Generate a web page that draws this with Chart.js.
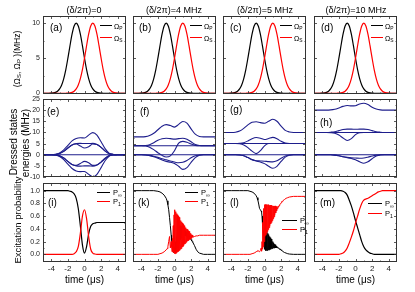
<!DOCTYPE html>
<html><head><meta charset="utf-8">
<script src="https://cdn.jsdelivr.net/npm/chart.js@4.4.1/dist/chart.umd.min.js"></script>
<style>
body{margin:0;background:#fff;}
#wrap{position:relative;width:415px;height:292px;overflow:hidden;font-family:"Liberation Sans",Arial,sans-serif;color:#000;background:#fff;}
canvas{position:absolute;left:0;top:0;}
.t{position:absolute;white-space:nowrap;line-height:1;}
.t sub{font-size:70%;vertical-align:-0.25em;line-height:0;}
.ll{position:absolute;height:0;}
</style></head><body><div id="wrap"></div>
<script>
// ---------------- DATA ----------------
const tFine = [-5,-4.75,-4.5,-4.25,-4,-3.75,-3.5,-3.25,-3,-2.75,-2.5,-2.25,-2,-1.75,-1.5,-1.25,-1,-0.75,-0.5,-0.25,0,0.25,0.5,0.75,1,1.25,1.5,1.75,2,2.25,2.5,2.75,3,3.25,3.5,3.75,4,4.25,4.5,4.75,5];
const tCoarse = [-5,-4.5,-4,-3.5,-3,-2.5,-2,-1.5,-1,-0.5,0,0.5,1,1.5,2,2.5,3,3.5,4,4.5,5];
const tNoisy = [-5,-4,-3,-2.5,-2,-1.75,-1.5,-1.25,-1,-0.9,-0.8,-0.7,-0.6,-0.5,-0.4,
 -0.35,-0.3,-0.25,-0.2,-0.15,-0.1,-0.05,0,0.05,0.1,0.15,0.2,0.25,0.3,0.35,0.4,0.45,0.5,0.55,0.6,0.65,0.7,0.75,0.8,0.85,0.9,0.95,1,1.05,1.1,1.15,1.2,1.25,1.3,1.35,1.4,1.45,1.5,1.55,1.6,1.65,1.7,1.75,1.8,1.85,1.9,1.95,2,2.05,2.1,2.15,2.2,
 2.4,2.6,2.8,3,3.5,4,4.5,5];

const detuningTitles = ['(δ/2π)=0','(δ/2π)=4 MHz','(δ/2π)=5 MHz','(δ/2π)=10 MHz'];
const panelLetters = [['(a)','(b)','(c)','(d)'],['(e)','(f)','(g)','(h)'],['(i)','(k)','(l)','(m)']];

// Row 1: Rabi frequencies (MHz)
const omegaP = [0,0,0,0.01,0.02,0.05,0.13,0.30,0.62,1.19,2.10,3.38,5.00,6.77,8.41,9.58,10,9.58,8.41,6.77,5.00,3.38,2.10,1.19,0.62,0.30,0.13,0.05,0.02,0.01,0,0,0,0,0,0,0,0,0,0,0];
const omegaS = [0,0,0,0,0,0,0,0,0,0,0,0.01,0.02,0.05,0.13,0.30,0.62,1.19,2.10,3.38,5.00,6.77,8.41,9.58,10,9.58,8.41,6.77,5.00,3.38,2.10,1.19,0.62,0.30,0.13,0.05,0.02,0.01,0,0,0];

// Row 2: dressed state energies (MHz)
const eA  = [0,0,0,0.2,0.8,2.2,4.2,6.2,7.3,7.6,7.5,8.8,9.9,8.8,5.8,2.6,0.6,0.1,0,0,0];
const eB  = [0,0,0,0.1,0.5,1.5,3.0,4.4,5.0,5.1,5.0,5.0,5.1,4.6,3.3,1.6,0.4,0.1,0,0,0];
const eC  = [0,0,0,0.1,0.5,1.5,3.0,4.4,4.8,3.9,3.0,3.6,4.8,4.6,3.3,1.6,0.4,0.1,0,0,0];
const eD  = [0,0,0,0,0,0,0,0,0,0,0,0,0,0,0,0,0,0,0,0,0];
const eCn = [0,0,0,-0.1,-0.5,-1.5,-3.0,-4.4,-4.8,-3.9,-3.0,-3.6,-4.8,-4.6,-3.3,-1.6,-0.4,-0.1,0,0,0];
const eBn = [0,0,0,-0.1,-0.5,-1.5,-3.0,-4.4,-5.0,-5.1,-5.0,-5.0,-5.1,-4.6,-3.3,-1.6,-0.4,-0.1,0,0,0];
const eAn = [0,0,0,-0.2,-0.8,-2.2,-4.2,-6.2,-7.3,-7.6,-7.5,-8.8,-9.9,-8.8,-5.8,-2.6,-0.6,-0.1,0,0,0];

const fA = [8,8,8,8.1,8.6,9.6,11.2,12.8,13.5,13.1,12.4,13.6,14.9,14.2,11.6,9.2,8.2,8,8,8,8];
const fB = [4,4,4,4.1,4.5,5.4,6.5,7.2,7.4,7.2,7.0,7.2,7.4,6.9,5.8,4.6,4.1,4,4,4,4];
const fC = [4,4,4,3.9,3.4,2.3,0.9,-0.3,-1.0,-0.5,1.8,5.2,6.0,5.6,4.8,4.2,4,4,4,4,4];
const fD = [4,4,4,4,4,4,4,4,4,4,4,4,4,4,4,4,4,4,4,4,4];
const fE = [0,0,0,0,0,0,0,0,0,0,0,0,0,0,0,0,0,0,0,0,0];
const fF = [0,0,0,-0.1,-0.3,-0.7,-1.2,-1.8,-2.3,-2.8,-3.3,-3.6,-3.4,-2.6,-1.4,-0.5,-0.1,0,0,0,0];
const fG = [0,0,0,-0.1,-0.4,-0.9,-1.6,-2.4,-3.0,-3.4,-3.9,-5.2,-6.6,-5.8,-3.4,-1.3,-0.2,0,0,0,0];

const gA = [10,10,10,10.1,10.6,11.8,13.4,14.6,14.8,14.4,14.1,15.0,15.9,15.0,12.8,10.9,10.2,10,10,10,10];
const gB = [5,5,5,5,5.1,5.4,6.2,7.2,7.7,7.4,6.8,7.3,7.8,7.2,6.0,5.2,5,5,5,5,5];
const gC = [5,5,5,5,4.9,4.4,3.2,1.6,0.5,1.8,4.0,5.0,5,5,5,5,5,5,5,5,5];
const gD = [5,5,5,5,5,5,5,5,5,5,5,5,5,5,5,5,5,5,5,5,5];
const gE = [0,0,0,0,0,0,0,0,0,0,0,0,0,0,0,0,0,0,0,0,0];
const gF = [0,0,0,0,-0.1,-0.5,-1.3,-2.2,-2.7,-2.8,-2.9,-3.1,-3.2,-2.7,-1.6,-0.6,-0.1,0,0,0,0];
const gG = [0,0,0,0,-0.1,-0.5,-1.3,-2.2,-2.8,-3.3,-4.0,-5.2,-6.1,-5.2,-3.0,-1.1,-0.2,0,0,0,0];

const hA = [20,20,20,20,20.1,20.4,21.0,21.7,22.1,21.9,22.0,22.8,23.1,22.5,21.3,20.5,20.1,20,20,20,20];
const hB = [10,10,10,10,10.1,10.3,10.8,11.3,11.5,11.5,11.4,11.5,11.5,11.3,10.8,10.3,10.1,10,10,10,10];
const hC = [10,10,10,10,9.9,9.6,8.8,7.5,6.4,7.2,9.0,9.9,10,10,10,10,10,10,10,10,10];
const hD = [10,10,10,10,10,10,10,10,10,10,10,10,10,10,10,10,10,10,10,10,10];
const hE = [0,0,0,0,0,0,0,0,0,0,0,0,0,0,0,0,0,0,0,0,0];
const hF = [0,0,0,0,-0.05,-0.2,-0.5,-0.9,-1.2,-1.4,-1.5,-1.6,-1.5,-1.1,-0.6,-0.2,-0.05,0,0,0,0];
const hG = [0,0,0,0,-0.05,-0.2,-0.5,-0.9,-1.3,-1.7,-2.3,-3.2,-3.8,-3.2,-1.8,-0.6,-0.1,0,0,0,0];

// Row 3: excitation probabilities
const pInfI = [1,1,1,1,1,1,1,1,1,1,1,1,1,0.99,0.98,0.95,0.88,0.72,0.45,0.15,0.02,0.12,0.32,0.44,0.48,0.49,0.5,0.5,0.5,0.5,0.5,0.5,0.5,0.5,0.5,0.5,0.5,0.5,0.5,0.5,0.5];
const p1I   = [0,0,0,0,0,0,0,0,0,0,0,0,0,0,0,0.01,0.04,0.12,0.33,0.6,0.7,0.56,0.28,0.08,0.02,0.005,0,0,0,0,0,0,0,0,0,0,0,0,0,0,0];
const pInfK = [1,1,1,1,0.99,0.98,0.96,0.93,0.88,0.84,0.78,0.7,0.58,0.45,0.3,
 0.22,0.15,0.1,0.06,0.04,0.03,0.04,0.06,0.12,0.03,0.2,0.05,0.28,0.08,0.34,0.12,0.4,0.16,0.44,0.2,0.45,0.23,0.45,0.25,0.44,0.27,0.43,0.28,0.42,0.29,0.41,0.29,0.39,0.29,0.37,0.29,0.35,0.28,0.33,0.27,0.31,0.26,0.29,0.25,0.27,0.24,0.25,0.23,0.23,0.21,0.2,0.19,
 0.14,0.08,0.04,0.02,0,0,0,0];
const p1K = [0,0,0,0,0,0.01,0.02,0.04,0.07,0.09,0.12,0.2,0.28,0.1,0.2,
 0.12,0.04,0.25,0.05,0.45,0.03,0.62,0.01,0.70,0.01,0.67,0.02,0.64,0.03,0.62,0.04,0.60,0.05,0.58,0.06,0.55,0.08,0.53,0.09,0.51,0.11,0.49,0.12,0.47,0.14,0.45,0.16,0.43,0.17,0.42,0.19,0.40,0.20,0.39,0.21,0.37,0.22,0.36,0.23,0.34,0.24,0.33,0.25,0.31,0.26,0.30,0.27,
 0.28,0.29,0.29,0.3,0.3,0.3,0.3,0.3];
const pInfL = [1,1,1,1,1,0.99,0.98,0.96,0.92,0.89,0.85,0.79,0.72,0.7,0.68,
 0.66,0.6,0.52,0.44,0.36,0.28,0.12,0.42,0.08,0.4,0.06,0.38,0.06,0.36,0.06,0.33,0.07,0.31,0.07,0.28,0.08,0.26,0.08,0.24,0.09,0.22,0.09,0.2,0.1,0.18,0.1,0.16,0.1,0.15,0.1,0.13,0.1,0.12,0.1,0.11,0.1,0.1,0.09,0.09,0.08,0.08,0.07,0.07,0.06,0.06,0.05,0.05,
 0.03,0.02,0.01,0.005,0,0,0,0];
const p1L = [0,0,0,0,0,0,0.01,0.02,0.04,0.05,0.06,0.05,0.04,0.06,0.1,
 0.05,0.2,0.08,0.5,0.12,0.72,0.2,0.78,0.28,0.78,0.3,0.78,0.33,0.78,0.36,0.78,0.39,0.78,0.42,0.77,0.45,0.77,0.48,0.77,0.5,0.77,0.53,0.76,0.56,0.76,0.59,0.76,0.62,0.76,0.65,0.75,0.68,0.75,0.71,0.75,0.74,0.76,0.76,0.77,0.78,0.79,0.8,0.81,0.82,0.83,0.83,0.84,
 0.86,0.88,0.89,0.9,0.91,0.91,0.91,0.91];
const pInfM = [1,1,1,1,1,1,1,1,1,1,1,1,1,1,0.99,0.97,0.93,0.85,0.76,0.65,0.53,0.42,0.31,0.2,0.12,0.07,0.04,0.02,0.01,0,0,0,0,0,0,0,0,0,0,0,0];
const p1M   = [0,0,0,0,0,0,0,0,0,0,0,0,0,0.01,0.02,0.05,0.1,0.18,0.27,0.37,0.49,0.6,0.71,0.8,0.85,0.87,0.88,0.9,0.92,0.94,0.96,0.98,0.99,1,1,1,1,1,1,1,1];

// tick values
const xMajor = [-4,-2,0,2,4];
const xMinor = [-3,-1,1,3];
const y1Major = [0,5,10], y1Minor = [2.5,7.5];
const y2Major = [-10,-5,0,5,10,15,20,25], y2Minor = [-7.5,-2.5,2.5,7.5,12.5,17.5,22.5];
const y3Major = [0,0.2,0.4,0.6,0.8,1.0], y3Minor = [0.1,0.3,0.5,0.7,0.9];

// ---------------- LAYOUT ----------------
const W = 415, H = 292;
const colL = [43,133,223,314], colR = [126,216,306,397];
const rowT = [16,99,183], rowB = [94,177,262];
const YW = 30, XH = 16;
const FONT = '"Liberation Sans", Arial, sans-serif';
const BLUE = '#1e1e8c', RED = '#ff0000', BLACK = '#000000';
const wrap = document.getElementById('wrap');

const frameTicks = {
  id: 'frameTicks',
  afterDatasetsDraw(chart, args, o) {
    const {ctx, chartArea: a, scales: {x, y}} = chart;
    ctx.save();
    ctx.strokeStyle = '#333'; ctx.lineWidth = 1;
    ctx.strokeRect(a.left + 0.5, a.top + 0.5, a.right - a.left - 1, a.bottom - a.top - 1);
    ctx.lineWidth = 0.8;
    ctx.beginPath();
    const tk = (vals, len, isX) => vals.forEach(v => {
      if (isX) {
        const px = Math.round(x.getPixelForValue(v)) + 0.5;
        ctx.moveTo(px, a.bottom); ctx.lineTo(px, a.bottom - len);
        ctx.moveTo(px, a.top); ctx.lineTo(px, a.top + len);
      } else {
        const py = Math.round(y.getPixelForValue(v)) + 0.5;
        ctx.moveTo(a.left, py); ctx.lineTo(a.left + len, py);
        ctx.moveTo(a.right, py); ctx.lineTo(a.right - len, py);
      }
    });
    tk(o.xMajor, 3, true); tk(o.xMinor, 1.5, true);
    tk(o.yMajor, 3, false); tk(o.yMinor, 1.5, false);
    ctx.stroke();
    ctx.restore();
  }
};

function ser(xs, ys, color, order, smooth, bw) {
  return {
    data: xs.map((x, i) => ({x, y: ys[i]})),
    borderColor: color, borderWidth: bw || 1.2, pointRadius: 0, fill: false, order,
    tension: smooth ? 0.4 : 0, cubicInterpolationMode: smooth ? 'monotone' : 'default'
  };
}

function panel(row, col, datasets, yMin, yMax, yMajor, yMinor, fmt) {
  const c = document.createElement('canvas');
  c.width = W; c.height = H;
  c.style.width = W + 'px'; c.style.height = H + 'px';
  wrap.appendChild(c);
  const xShow = row === 2, yShow = col === 0;
  new Chart(c, {
    type: 'line',
    data: {datasets},
    options: {
      responsive: false, animation: false, devicePixelRatio: 1,
      layout: {padding: {left: colL[col] - (yShow ? YW : 0), right: W - colR[col], top: rowT[row], bottom: H - rowB[row] - (xShow ? XH : 0)}},
      plugins: {legend: {display: false}, tooltip: {enabled: false},
        frameTicks: {xMajor, xMinor, yMajor, yMinor}},
      scales: {
        x: {type: 'linear', min: -5, max: 5, display: xShow,
          afterBuildTicks: s => { s.ticks = xMajor.map(v => ({value: v})); },
          afterFit: s => { s.height = xShow ? XH : 0; },
          grid: {display: false, drawTicks: false}, border: {display: false},
          ticks: {font: {size: 8, family: FONT}, color: '#222', padding: 2, autoSkip: false, maxRotation: 0, callback: v => String(v)}},
        y: {type: 'linear', min: yMin, max: yMax, display: yShow,
          afterBuildTicks: s => { s.ticks = yMajor.map(v => ({value: v})); },
          afterFit: s => { s.width = yShow ? YW : 0; },
          grid: {display: false, drawTicks: false}, border: {display: false},
          ticks: {font: {size: 7, family: FONT}, color: '#222', padding: 3, autoSkip: false, callback: fmt}}
      }
    },
    plugins: [frameTicks]
  });
}

const fmtInt = v => String(v);
const fmt1 = v => Number(v).toFixed(1);

// Row 1
for (let c = 0; c < 4; c++) {
  panel(0, c, [ser(tFine, omegaP, BLACK, 1, true), ser(tFine, omegaS, RED, 0, true)], -0.1, 11, y1Major, y1Minor, fmtInt);
}
// Row 2
const energySets = [
  [eA, eB, eC, eD, eCn, eBn, eAn],
  [fA, fB, fC, fD, fE, fF, fG],
  [gA, gB, gC, gD, gE, gF, gG],
  [hA, hB, hC, hD, hE, hF, hG]
];
energySets.forEach((set, c) => {
  panel(1, c, set.map((ys, i) => ser(tCoarse, ys, BLUE, i, true, 1.1)), -10, 25, y2Major, y2Minor, fmtInt);
});
// Row 3
panel(2, 0, [ser(tFine, p1I, RED, 0, true), ser(tFine, pInfI, BLACK, 1, true)], -0.12, 1.12, y3Major, y3Minor, fmt1);
panel(2, 1, [ser(tNoisy, p1K, RED, 0, false, 1), ser(tNoisy, pInfK, BLACK, 1, false, 1)], -0.12, 1.12, y3Major, y3Minor, fmt1);
panel(2, 2, [ser(tNoisy, p1L, RED, 0, false, 1), ser(tNoisy, pInfL, BLACK, 1, false, 1)], -0.12, 1.12, y3Major, y3Minor, fmt1);
panel(2, 3, [ser(tFine, p1M, RED, 0, true), ser(tFine, pInfM, BLACK, 1, true)], -0.12, 1.12, y3Major, y3Minor, fmt1);

// ---------------- TEXT ----------------
function txt(html, x, y, size, align, rot) {
  const d = document.createElement('div');
  d.className = 't';
  d.innerHTML = html;
  d.style.fontSize = size + 'px';
  d.style.left = x + 'px';
  d.style.top = y + 'px';
  const tx = align === 'center' ? '-50%' : (align === 'right' ? '-100%' : '0');
  d.style.transform = 'translate(' + tx + ',-50%)' + (rot ? ' rotate(-90deg)' : '');
  wrap.appendChild(d);
}
function lline(x1, x2, y, color) {
  const d = document.createElement('div');
  d.className = 'll';
  d.style.left = x1 + 'px'; d.style.top = (y - 0.75) + 'px';
  d.style.width = (x2 - x1) + 'px';
  d.style.borderTop = '1.5px solid ' + color;
  wrap.appendChild(d);
}

const titleX = [84, 174, 265, 356];
detuningTitles.forEach((t, c) => txt(t, titleX[c], 10, 9, 'center'));

const letterPos = [
  [[50,28],[139,28],[230,28],[321,28]],
  [[47,112],[140,112],[230,110],[320,123]],
  [[48,203],[138,203],[230,203],[320,203]]
];
panelLetters.forEach((r, ri) => r.forEach((l, ci) => txt(l, letterPos[ri][ci][0], letterPos[ri][ci][1], 10, 'left')));

// Row-1 legends
for (let c = 0; c < 4; c++) {
  const R = colR[c];
  lline(R - 26, R - 14, 26, BLACK); txt('Ω<sub>P</sub>', R - 12, 26, 7, 'left');
  lline(R - 26, R - 14, 37.5, RED); txt('Ω<sub>S</sub>', R - 12, 37.5, 7, 'left');
}
// Row-3 legends
const leg3 = [[97,110,113,193,202],[185,198,201,193,202],[282,297,300,221,230],[368,382,385,204,214]];
leg3.forEach(([x1,x2,tx,yb,yr]) => {
  lline(x1, x2, yb, BLACK); txt('P<sub>∞</sub>', tx, yb, 7.5, 'left');
  lline(x1, x2, yr, RED); txt('P<sub>1</sub>', tx, yr, 7.5, 'left');
});

// axis titles
txt('(Ω<sub>S</sub>, Ω<sub>P</sub> )(MHz)', 17, 59, 8.5, 'center', true);
txt('Dressed states', 14, 142, 10, 'center', true);
txt('energies (MHz)', 26, 143, 10, 'center', true);
txt('Excitation probability', 18, 220, 9.5, 'center', true);
for (let c = 0; c < 4; c++) txt('time (μs)', (colL[c] + colR[c]) / 2, 280, 10, 'center');
</script>
</body></html>
